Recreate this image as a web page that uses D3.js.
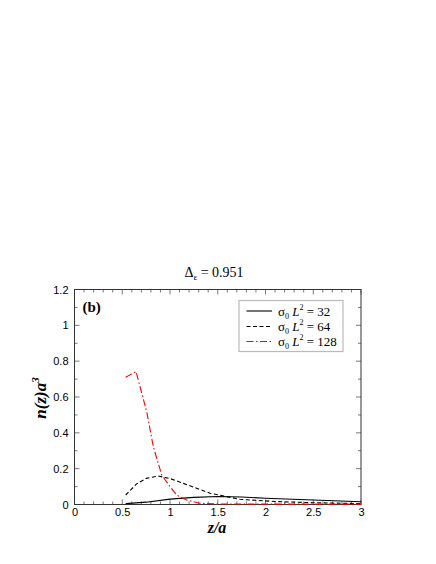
<!DOCTYPE html>
<html><head><meta charset="utf-8">
<script src="https://cdn.jsdelivr.net/npm/d3@7"></script>
<style>body{margin:0;background:#fff}</style>
</head><body>
<script>
const xTicks = [0, 0.5, 1, 1.5, 2, 2.5, 3];
const yTicks = [0, 0.2, 0.4, 0.6, 0.8, 1, 1.2];
const seriesNames = ["32", "64", "128"];
const z32 = [0.536, 0.75, 1.0, 1.25, 1.5, 1.75, 2.0, 2.5, 3.0];
const n32 = [0.005, 0.013, 0.03, 0.040, 0.045, 0.042, 0.035, 0.025, 0.015];
const z64 = [0.536, 0.65, 0.75, 0.877, 1.0, 1.14, 1.42, 1.73, 2.12, 2.5, 3.0];
const n64 = [0.053, 0.115, 0.146, 0.159, 0.145, 0.118, 0.063, 0.029, 0.016, 0.01, 0.005];
const z128 = [0.536, 0.644, 0.756, 0.825, 0.913, 1.0, 1.07, 1.175, 1.31, 1.5, 2.0, 2.5, 3.0];
const n128 = [0.71, 0.742, 0.518, 0.323, 0.165, 0.1, 0.053, 0.025, 0.007, 0.003, 0.002, 0.002, 0.002];

const W = 436, H = 564;
const L = 74.5, R = 361, T = 289.5, B = 504.5;
const svg = d3.select("body").append("svg").attr("width", W).attr("height", H);
const x = d3.scaleLinear().domain([0, 3]).range([L, R]);
const y = d3.scaleLinear().domain([0, 1.2]).range([B, T]);

const sans = "'Liberation Sans', Arial, sans-serif";
const serif = "'Liberation Serif', 'Times New Roman', serif";

// ticks
const g = svg.append("g").attr("stroke", "#555").attr("stroke-width", 0.8);
const xMinor = d3.range(0, 3.0001, 0.1);
const yMinor = d3.range(0, 1.2001, 0.1);
xMinor.forEach(v => {
  const len = Math.abs(v * 2 - Math.round(v * 2)) < 1e-6 ? 5 : 3;
  g.append("line").attr("x1", x(v)).attr("x2", x(v)).attr("y1", B).attr("y2", B - len);
  g.append("line").attr("x1", x(v)).attr("x2", x(v)).attr("y1", T).attr("y2", T + len);
});
yMinor.forEach(v => {
  const len = Math.abs(v * 5 - Math.round(v * 5)) < 1e-6 ? 5 : 3;
  g.append("line").attr("x1", L).attr("x2", L + len).attr("y1", y(v)).attr("y2", y(v));
  g.append("line").attr("x1", R).attr("x2", R - len).attr("y1", y(v)).attr("y2", y(v));
});

// axis labels via d3 axes (labels only)
const xa = svg.append("g").attr("transform", `translate(0,${B})`)
  .call(d3.axisBottom(x).tickValues(xTicks).tickSize(0).tickPadding(4).tickFormat(d3.format("")));
xa.select(".domain").remove();
xa.selectAll("text").attr("font-family", sans).attr("font-size", 11).attr("fill", "#000");
const ya = svg.append("g").attr("transform", `translate(${L},0)`)
  .call(d3.axisLeft(y).tickValues(yTicks).tickSize(0).tickPadding(6).tickFormat(d3.format("")));
ya.select(".domain").remove();
ya.selectAll("text").attr("font-family", sans).attr("font-size", 11).attr("fill", "#000");

// frame
svg.append("rect").attr("x", L).attr("y", T).attr("width", R - L).attr("height", B - T)
  .attr("fill", "none").attr("stroke", "#333").attr("stroke-width", 1);

// lines
const line = d3.line().x(d => x(d[0])).y(d => y(d[1]));
const series = [
  {z: z32, n: n32, color: "#000", dash: null},
  {z: z64, n: n64, color: "#000", dash: "4,2.5"},
  {z: z128, n: n128, color: "#f00", dash: "7,2.5,1.5,2.5"}
];
series.forEach(s => {
  svg.append("path").datum(s.z.map((v, i) => [v, s.n[i]]))
    .attr("d", line).attr("fill", "none").attr("stroke", s.color)
    .attr("stroke-width", 1.1).attr("stroke-dasharray", s.dash);
});

// legend
svg.append("rect").attr("x", 239).attr("y", 300.5).attr("width", 104).attr("height", 51)
  .attr("fill", "#fff").attr("stroke", "#bbb").attr("stroke-width", 1.2);
const ly = [311, 326.5, 341.5];
series.forEach((s, i) => {
  svg.append("line").attr("x1", 246.5).attr("x2", 272).attr("y1", ly[i]).attr("y2", ly[i])
    .attr("stroke", s.color).attr("stroke-width", 1.1).attr("stroke-dasharray", s.dash);
  const t = svg.append("text").attr("x", 278).attr("y", ly[i] + 4.5)
    .attr("font-family", serif).attr("font-size", 13).attr("fill", "#000");
  t.append("tspan").text("σ");
  t.append("tspan").attr("font-size", 8).attr("dy", 3).text("0");
  t.append("tspan").attr("dy", -3).text(" ");
  t.append("tspan").attr("font-style", "italic").text("L");
  t.append("tspan").attr("font-size", 8).attr("dy", -6).text("2");
  t.append("tspan").attr("dy", 6).text(" = " + seriesNames[i]);
});

// (b)
svg.append("text").attr("x", 82.5).attr("y", 311.5).attr("font-family", serif)
  .attr("font-weight", "bold").attr("font-size", 15).text("(b)");

// title
const tt = svg.append("text").attr("x", 214).attr("y", 276.5).attr("text-anchor", "middle")
  .attr("font-family", serif).attr("font-size", 14);
tt.append("tspan").text("Δ");
tt.append("tspan").attr("font-size", 9).attr("dy", 3).text("ε");
tt.append("tspan").attr("dy", -3).text(" = 0.951");

// x title
svg.append("text").attr("x", 217).attr("y", 533).attr("text-anchor", "middle")
  .attr("font-family", serif).attr("font-weight", "bold").attr("font-style", "italic")
  .attr("font-size", 16).text("z/a");

// y title
const yt = svg.append("text").attr("transform", "translate(46,398) rotate(-90)")
  .attr("text-anchor", "middle").attr("font-family", serif).attr("font-weight", "bold")
  .attr("font-style", "italic").attr("font-size", 17);
yt.append("tspan").text("n(z)a");
yt.append("tspan").attr("font-size", 11).attr("dy", -7).text("3");
</script>
</body></html>
